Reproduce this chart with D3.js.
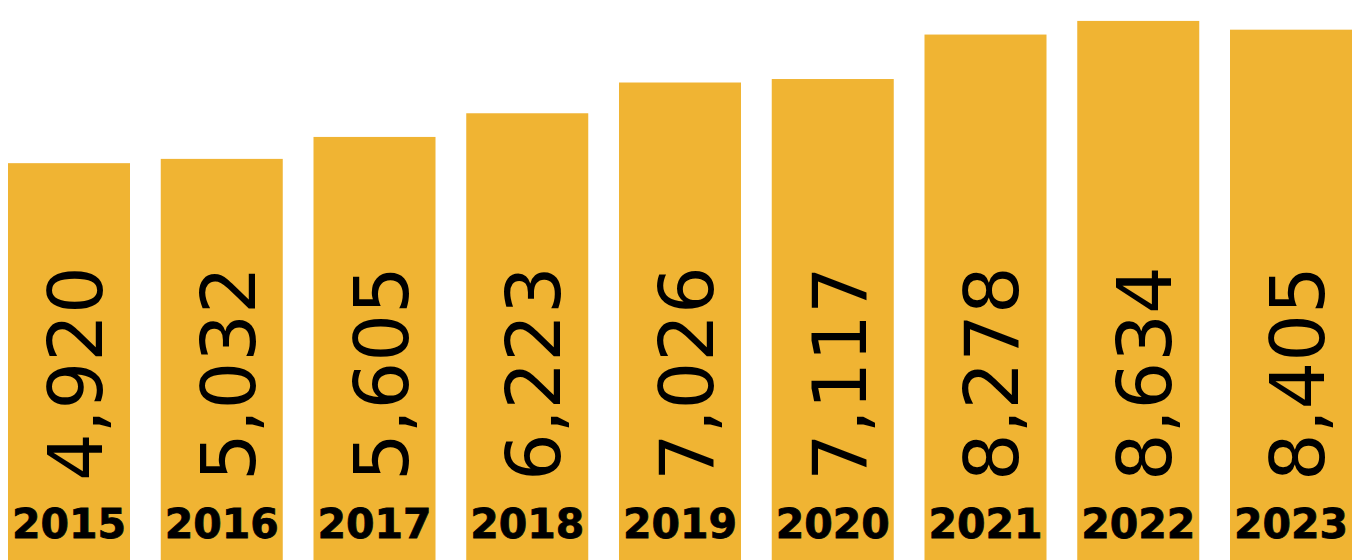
<!DOCTYPE html>
<html>
<head>
<meta charset="utf-8">
<script src="https://cdn.jsdelivr.net/npm/d3@7"></script>
<style>
  html, body { margin: 0; padding: 0; background: #ffffff; }
  svg { display: block; }
</style>
</head>
<body>
<svg id="chart" width="1359" height="560"></svg>
<script>
const years = ["2015", "2016", "2017", "2018", "2019", "2020", "2021", "2022", "2023"];
const values = [4920, 5032, 5605, 6223, 7026, 7117, 8278, 8634, 8405];

const W = 1359, H = 560;
const svg = d3.select("#chart");

const x = d3.scaleBand()
  .domain(years)
  .range([8, 1352])
  .paddingInner(0.2013)
  .paddingOuter(0);

// bars do not start at zero in the original; the baseline sits below the frame
const y = d3.scaleLinear()
  .domain([-5440, 9180])
  .range([H, 0]);

const data = years.map((yr, i) => ({ year: yr, value: values[i] }));
const fmt = d3.format(",");

const g = svg.append("g");

g.selectAll("rect.bar")
  .data(data)
  .join("rect")
  .attr("class", "bar")
  .attr("x", d => x(d.year))
  .attr("width", x.bandwidth())
  .attr("y", d => y(d.value))
  .attr("height", d => H - y(d.value))
  .attr("fill", "#F0B433");

// rotated value labels
g.selectAll("text.val")
  .data(data)
  .join("text")
  .attr("class", "val")
  .attr("transform", d => `translate(${x(d.year) + x.bandwidth() / 2 + 33},481) rotate(-90)`)
  .attr("text-anchor", "start")
  .attr("font-family", "'DejaVu Sans', sans-serif")
  .attr("font-size", 75)
  .attr("fill", "#000")
  .text(d => fmt(d.value));

// year labels
g.selectAll("text.yr")
  .data(data)
  .join("text")
  .attr("class", "yr")
  .attr("x", d => x(d.year) + x.bandwidth() / 2)
  .attr("y", 538)
  .attr("text-anchor", "middle")
  .attr("font-family", "'DejaVu Sans', sans-serif")
  .attr("font-weight", "bold")
  .attr("font-size", 41)
  .attr("stroke", "#000")
  .attr("stroke-width", 0.8)
  .attr("fill", "#000")
  .text(d => d.year);
</script>
</body>
</html>
